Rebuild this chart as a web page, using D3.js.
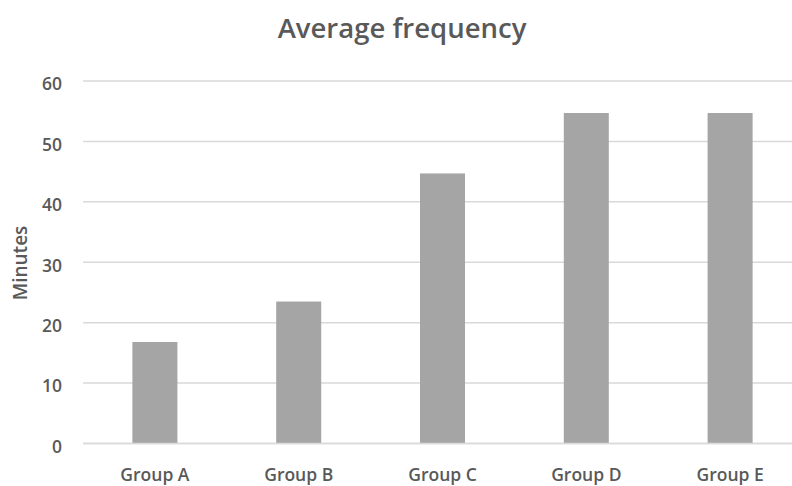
<!DOCTYPE html>
<html><head><meta charset="utf-8">
<script src="https://cdn.jsdelivr.net/npm/d3@7"></script>
<style>body{margin:0;background:#fff}svg{display:block}text{font-family:"Open Sans",sans-serif;fill:#595959}</style>
</head><body>
<svg id="c" width="792" height="486"></svg>
<script>
const categories = ["Group A","Group B","Group C","Group D","Group E"];
const values = [16.8, 23.5, 44.7, 54.7, 54.7];
const yTicks = [0,10,20,30,40,50,60];
const title = "Average frequency";
const yLabel = "Minutes";

const FONT = "'Open Sans',sans-serif";
const svg = d3.select("#c");
const x = d3.scaleBand().domain(categories).range([83, 802]).paddingInner(0.687).paddingOuter(0.3435);
const y = d3.scaleLinear().domain([0, 60]).range([443.5, 81]);

svg.append("g").selectAll("line").data(yTicks).join("line")
  .attr("x1", 83).attr("x2", 792)
  .attr("y1", d => y(d)).attr("y2", d => y(d))
  .attr("stroke", "#d9d9d9").attr("stroke-width", 1.5);

svg.append("g").selectAll("rect").data(values).join("rect")
  .attr("x", (d,i) => x(categories[i]))
  .attr("width", x.bandwidth())
  .attr("y", d => y(d))
  .attr("height", d => y(0) - y(d))
  .attr("fill", "#a5a5a5");

svg.append("line").attr("x1",83).attr("x2",792).attr("y1",y(0)).attr("y2",y(0))
  .attr("stroke","#d9d9d9").attr("stroke-width",1.5);

const yAxis = d3.axisLeft(y).tickValues(yTicks).tickSize(0).tickPadding(0);
const ya = svg.append("g").attr("transform","translate(62,0)").call(yAxis);
ya.select(".domain").remove();
ya.selectAll("text").attr("font-size", 17.5).attr("font-weight", 600).style("font-family",FONT).attr("fill","#595959").attr("dy","0.5em");

const xAxis = d3.axisBottom(x).tickSize(0).tickPadding(0);
const xa = svg.append("g").attr("transform","translate(0,481)").call(xAxis);
xa.select(".domain").remove();
xa.selectAll("text").attr("font-size", 17.5).attr("font-weight", 600).style("font-family",FONT).attr("fill","#595959").attr("dy","0").attr("y",0);

svg.append("text").attr("x", 402).attr("y", 38).attr("text-anchor","middle")
  .style("font-family",FONT).attr("font-weight", 600).attr("font-size", 27.5).text(title);

svg.append("text").attr("transform","translate(26.5,263) rotate(-90)").attr("text-anchor","middle")
  .style("font-family",FONT).attr("font-weight", 600).attr("font-size", 19).text(yLabel);
</script>
</body></html>
